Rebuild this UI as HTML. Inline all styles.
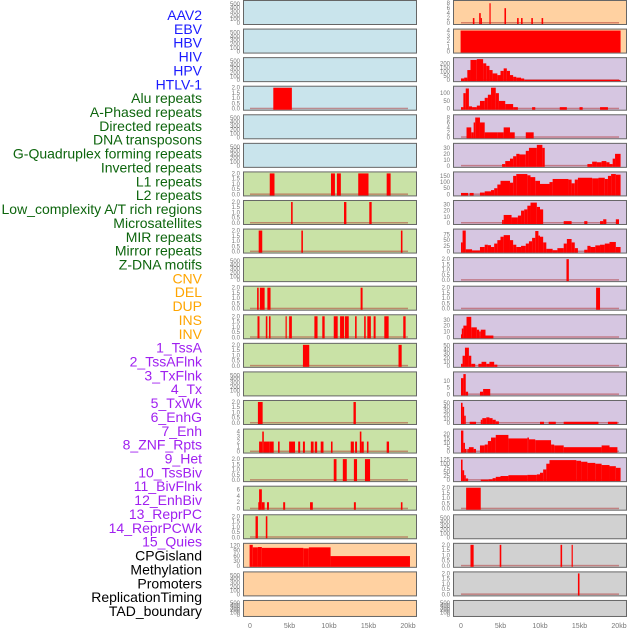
<!DOCTYPE html>
<html><head><meta charset="utf-8"><style>
body{margin:0;background:#fff;width:630px;height:630px;overflow:hidden;font-family:"Liberation Sans",sans-serif}
svg{display:block}
</style></head><body>
<svg id="chart" width="630" height="630" viewBox="0 0 630 630" xmlns="http://www.w3.org/2000/svg"></svg>
<script>
const categories=["AAV2","EBV","HBV","HIV","HPV","HTLV-1","Alu repeats","A-Phased repeats","Directed repeats","DNA transposons","G-Quadruplex forming repeats","Inverted repeats","L1 repeats","L2 repeats","Low_complexity A/T rich regions","Microsatellites","MIR repeats","Mirror repeats","Z-DNA motifs","CNV","DEL","DUP","INS","INV","1_TssA","2_TssAFlnk","3_TxFlnk","4_Tx","5_TxWk","6_EnhG","7_Enh","8_ZNF_Rpts","9_Het","10_TssBiv","11_BivFlnk","12_EnhBiv","13_ReprPC","14_ReprPCWk","15_Quies","CPGisland","Methylation","Promoters","ReplicationTiming","TAD_boundary"];
const labelColors=["#1a1aff","#1a1aff","#1a1aff","#1a1aff","#1a1aff","#1a1aff","#0d650d","#0d650d","#0d650d","#0d650d","#0d650d","#0d650d","#0d650d","#0d650d","#0d650d","#0d650d","#0d650d","#0d650d","#0d650d","#ffa500","#ffa500","#ffa500","#ffa500","#ffa500","#a020f0","#a020f0","#a020f0","#a020f0","#a020f0","#a020f0","#a020f0","#a020f0","#a020f0","#a020f0","#a020f0","#a020f0","#a020f0","#a020f0","#a020f0","#000","#000","#000","#000","#000"];
const E=[];
const T2=[0,0.5,1,1.5,2];
const T500=[0,100,200,300,400,500];
const yTicks=[T500,[0,2,4,6,8],T500,[0,1,2,3,4],T500,[0,50,100,150,200],T2,[0,50,100],T500,[0,2,4,6,8],T500,[0,10,20,30],
T2,[0,50,100,150],T2,[0,10,20,30],T2,[0,25,50,75],T500,T2,T2,T2,T2,[0,10,20,30],T2,[0,10,20,30,40,50],T500,[0,5,10],T2,[0,10,20,30,40,50],
[0,1,2,3,4],[0,5,10,15,20],T2,[0,25,50,75,100,125],[0,2,4,6],T2,T2,T500,[0,30,60,90,120],T2,T500,T2,T500,T500];
const yMaxes=[550,8.5,550,4,550,250,2,135,550,8.5,550,35,2,170,2,34,2,92,550,2,2,2,2,36,2,52,550,15.5,2,52,4.2,24,2,128,6.5,2,2,550,125,2,550,2,550,550];
const segments=[
E,
[[1.5,1.7,2],[2.3,2.5,4],[2.5,2.6,2],[3.6,3.75,8],[5.5,5.7,6],[7.1,7.3,2],[7.6,7.8,2],[8.9,9.1,2],[10.2,10.4,2]],
E,
[[-0.05,20.2,4]],
E,
[[0,0.4,20],[0.4,0.8,30],[0.8,1.2,120],[1.2,2.0,240],[2.0,2.8,250],[2.8,3.2,200],[3.2,3.6,170],[3.6,4.0,120],[4.0,4.6,80],[4.6,5.0,60],[5.0,5.4,110],[5.4,5.8,140],[5.8,6.2,110],[6.2,6.6,60],[6.6,7.0,40],[7.0,7.6,30],[7.6,8.0,20],[8.0,20.2,3]],
[[2.95,5.3,2]],
[[0,0.3,10],[0.3,0.6,100],[0.6,1.0,130],[1.0,1.4,15],[1.4,2.0,10],[2.0,2.4,20],[2.4,3.0,50],[3.0,3.4,70],[3.4,3.8,90],[3.8,4.4,135],[4.4,4.8,100],[4.8,5.6,50],[5.6,6.6,30],[6.6,7.2,10],[9.0,9.4,10],[12.5,13.4,10],[15.0,15.4,10],[17.6,18.6,10]],
E,
[[0.7,1.3,4],[1.3,1.6,2],[1.6,1.8,6],[1.8,2.4,8],[2.4,3.0,6],[3.0,4.6,2],[5.4,6.2,4],[4.6,5.4,2],[6.2,6.8,2],[8.2,9.2,2]],
E,
[[5.2,5.6,3],[5.6,6.2,8],[6.2,6.6,12],[6.6,7.0,16],[7.0,7.4,20],[7.4,8.2,19],[8.2,8.6,25],[8.6,9.6,30],[9.6,10.3,35],[10.3,10.6,30],[16.0,16.6,3],[16.6,17.2,7],[17.2,17.8,6],[17.8,18.4,8],[18.4,18.8,6],[18.8,19.2,3],[19.2,19.5,12],[19.5,20.2,20]],
[[2.5,3.1,2],[10.25,10.75,2],[11.0,11.5,2],[13.7,15.0,2],[17.3,17.8,2]],
[[0,0.9,12],[1.1,1.6,12],[2.4,3.0,15],[3.0,3.8,25],[3.8,4.2,35],[4.2,4.6,50],[4.6,5.0,80],[5.0,6.2,110],[6.2,6.6,95],[6.6,7.0,150],[7.0,8.4,165],[8.4,8.8,155],[8.8,9.4,140],[9.4,10.0,110],[10.0,11.2,85],[11.2,11.6,100],[11.6,13.6,125],[13.6,14.0,120],[14.0,14.4,90],[14.4,14.8,120],[14.8,16.6,135],[16.6,17.4,130],[17.4,18.2,135],[18.2,18.6,125],[18.6,19.0,150],[19.0,19.6,165],[19.6,20.2,160]],
[[5.2,5.4,2],[11.9,12.2,2],[15.1,15.4,2]],
[[5.2,5.4,5],[5.4,6.4,13],[6.4,7.2,9],[7.2,7.6,12],[7.6,8.0,20],[8.0,8.4,22],[8.4,8.8,28],[8.8,9.6,33],[9.6,10.0,26],[10.0,10.4,22],[13.0,14.0,3],[15.6,16.0,3],[17.6,18.0,3],[18.0,18.4,6],[19.6,20.0,6]],
[[1.1,1.55,2],[6.5,6.7,2],[19.1,19.3,2]],
[[0,0.2,40],[0.2,0.6,92],[0.6,1.4,10],[1.4,2.4,5],[2.4,3.0,20],[3.0,3.4,30],[3.4,3.8,28],[3.8,4.2,20],[4.2,4.6,35],[4.6,5.0,50],[5.0,5.4,65],[5.4,6.2,72],[6.2,6.6,50],[6.6,7.0,30],[7.0,7.6,20],[7.6,8.2,25],[8.2,8.6,35],[8.6,9.0,45],[9.0,9.4,60],[9.4,9.8,90],[9.8,10.0,70],[10.0,10.4,65],[10.4,10.8,40],[10.8,11.6,12],[11.6,12.2,6],[12.2,13.0,15],[13.0,13.4,35],[13.4,14.0,55],[14.0,14.4,40],[14.4,14.8,15],[15.6,16.0,8],[16.0,16.4,25],[16.4,17.0,20],[17.0,17.6,27],[17.6,18.2,30],[18.2,18.8,35],[18.8,19.6,42],[19.6,20.2,20]],
E,
[[13.35,13.65,2]],
[[0.9,1.1,2],[1.25,1.85,2],[2.2,2.6,2],[14.0,14.25,2]],
[[17.1,17.6,2]],
[[0.95,1.2,2],[2.0,2.2,2],[2.4,2.6,2],[4.5,4.65,2],[4.95,5.3,2],[8.15,8.55,2],[9.15,9.45,2],[10.6,11.1,2],[11.4,11.9,2],[12.0,12.5,2],[13.3,13.5,2],[14.45,14.65,2],[14.85,15.3,2],[15.65,15.9,2],[17.0,17.55,2],[19.4,19.7,2]],
[[0,0.1,5],[0.1,0.3,15],[0.3,0.7,20],[0.7,1.3,35],[1.3,2.0,17],[2.0,2.3,13],[2.3,2.5,10],[2.5,3.1,13],[3.1,4.1,3]],
[[6.7,7.5,2],[18.8,19.2,2]],
[[0,0.2,5],[0.2,0.5,25],[0.5,1.0,45],[1.0,1.3,25],[1.3,1.8,5],[2.2,2.6,5],[2.6,3.2,10],[3.2,3.6,5],[3.6,4.2,10],[4.2,4.6,3]],
E,
[[0,0.3,12],[0.3,0.6,15],[0.6,0.9,2],[2.4,2.8,2],[2.8,3.7,4]],
[[1.0,1.6,2],[13.1,13.4,2]],
[[0,0.2,50],[0.2,0.4,40],[0.4,0.6,18],[1.1,1.9,3],[2.5,2.7,8],[2.7,3.2,12],[3.2,3.6,14],[3.6,4.0,12],[4.0,4.4,8],[4.4,4.8,4],[10.0,10.5,3],[11.1,12.0,3],[13.0,17.4,3],[18.6,19.8,3]],
[[1.15,1.55,2],[1.55,1.75,4],[1.75,2.5,2],[2.5,3.0,2],[3.55,3.75,2],[4.95,5.7,2],[6.1,6.35,2],[6.7,6.95,2],[7.7,8.05,2],[8.2,8.5,2],[8.95,9.3,2],[10.25,10.45,2],[12.75,13.15,2],[13.3,13.55,2],[13.9,14.1,4],[14.1,14.4,2],[14.8,15.0,2],[17.3,17.6,2]],
[[0,0.3,24],[0.3,0.5,10],[0.5,0.7,3],[0.8,1.0,3],[1.0,1.6,5],[1.6,1.9,3],[2.4,3.0,7],[3.0,3.4,8],[3.4,3.8,12],[3.8,4.4,16],[4.4,6.0,19],[6.0,8.4,15],[8.4,8.6,16],[8.6,9.4,14],[9.4,11.4,13],[11.4,11.8,8],[11.8,13.0,7],[13.0,17.8,5],[17.8,18.8,7],[18.8,19.8,5]],
[[10.6,10.95,2],[11.75,12.25,2],[13.15,13.55,2],[14.55,15.2,2]],
[[0,0.2,125],[0.2,0.4,60],[0.4,0.6,30],[0.6,0.9,10],[2.5,3.5,3],[3.5,4.0,5],[4.0,4.4,12],[4.4,5.0,20],[5.0,6.0,25],[6.0,8.4,30],[8.4,9.6,32],[9.6,10.0,35],[10.0,10.4,45],[10.4,10.8,65],[10.8,11.2,100],[11.2,14.6,122],[14.6,15.2,118],[15.2,16.0,112],[16.0,17.0,105],[17.0,17.8,100],[17.8,18.8,92],[18.8,19.6,85],[19.6,20.2,75]],
[[1.05,1.15,2],[1.15,1.5,6],[1.5,1.85,2],[2.15,2.4,2],[4.2,4.45,2],[7.6,7.95,2],[13.15,13.4,2],[19.1,19.3,2]],
[[0.65,2.5,2]],
[[0.7,1.0,2],[2.0,2.2,2]],
E,
[[-0.05,0.35,125],[0.35,1.0,110],[1.0,1.5,112],[1.5,6.75,107],[6.75,7.45,104],[7.45,10.2,110],[10.2,20.25,58]],
[[1.2,1.6,2],[4.9,5.1,2],[12.6,12.8,2],[14.0,14.1,2]],
E,
[[14.8,15.0,2]],
E,
E];
const xTickVals=[0,5,10,15,20];
const xTickLabels=["0","5kb","10kb","15kb","20kb"];

const NS="http://www.w3.org/2000/svg";
const svg=document.getElementById('chart');
function mk(tag,attrs,parent){const e=document.createElementNS(NS,tag);for(const k in attrs)e.setAttribute(k,attrs[k]);(parent||svg).appendChild(e);return e;}
const colLeft=[243,453];
const px0=[250,461];
const pxPerKb=7.9;
function xScale(col,kb){return px0[col]+kb*pxPerKb;}
function rowTop(r){return r*28.57;}
function bgColor(r,c){
  if(c===0){ if(r<=5)return "#c9e4ec"; if(r<=18)return "#c9e2a6"; return "#ffd1a1"; }
  if(r<=1)return "#ffd1a1"; if(r<=16)return "#d6c6e1"; return "#d1d1d1";
}
categories.forEach((name,i)=>{
  const t=mk('text',{x:202,y:20+i*13.86,'text-anchor':'end','font-size':'14',fill:labelColors[i],'font-family':'Liberation Sans, sans-serif'});
  
  
  t.textContent=name;
});
for(let i=0;i<categories.length;i++){
  const r=Math.floor(i/2),c=i%2;
  const top=rowTop(r);
  const h=(r===21)?17:25;
  const base=top+h-2;
  const span=h-4;
  const ymax=yMaxes[i];
  const yScale=v=>base-v/ymax*span;
  const g=mk('g',{});
  
  
  const bg=mk('rect',{x:colLeft[c]+0.5,y:top+0.5,width:173,height:h-1,fill:bgColor(r,c),stroke:'#666','stroke-width':1},g);
  
  
  const segs=segments[i];
  if(segs.length && !(segs.length===1 && segs[0][1]-segs[0][0]>15)){
    const bl=mk('rect',{x:xScale(c,0),y:base-1,width:20*pxPerKb,height:1.5,fill:'rgba(170,30,30,0.45)'},g);
    
    
  }
  segs.forEach(s=>{
    const x0=xScale(c,s[0]),x1=xScale(c,s[1]);
    const y=Math.max(top+1,yScale(s[2]));
    const b=mk('rect',{x:x0,y:y,width:Math.max(1.2,x1-x0),height:base-y+1,fill:'#ff0000'},g);
    
    
  });
  yTicks[i].forEach(v=>{
    const lab=(ymax===2)?v.toFixed(1):String(v);
    const t=mk('text',{x:colLeft[c]-3,y:yScale(v)+2,'text-anchor':'end','font-size':'6',fill:'#777'},g);
    
    
    t.textContent=lab;
  });
}
for(let c=0;c<2;c++){
  xTickVals.forEach((v,k)=>{
    const t=mk('text',{x:xScale(c,v),y:628,'text-anchor':'middle','font-size':'7',fill:'#777'});
    
    
    t.textContent=xTickLabels[k];
  });
}
</script>
</body></html>
